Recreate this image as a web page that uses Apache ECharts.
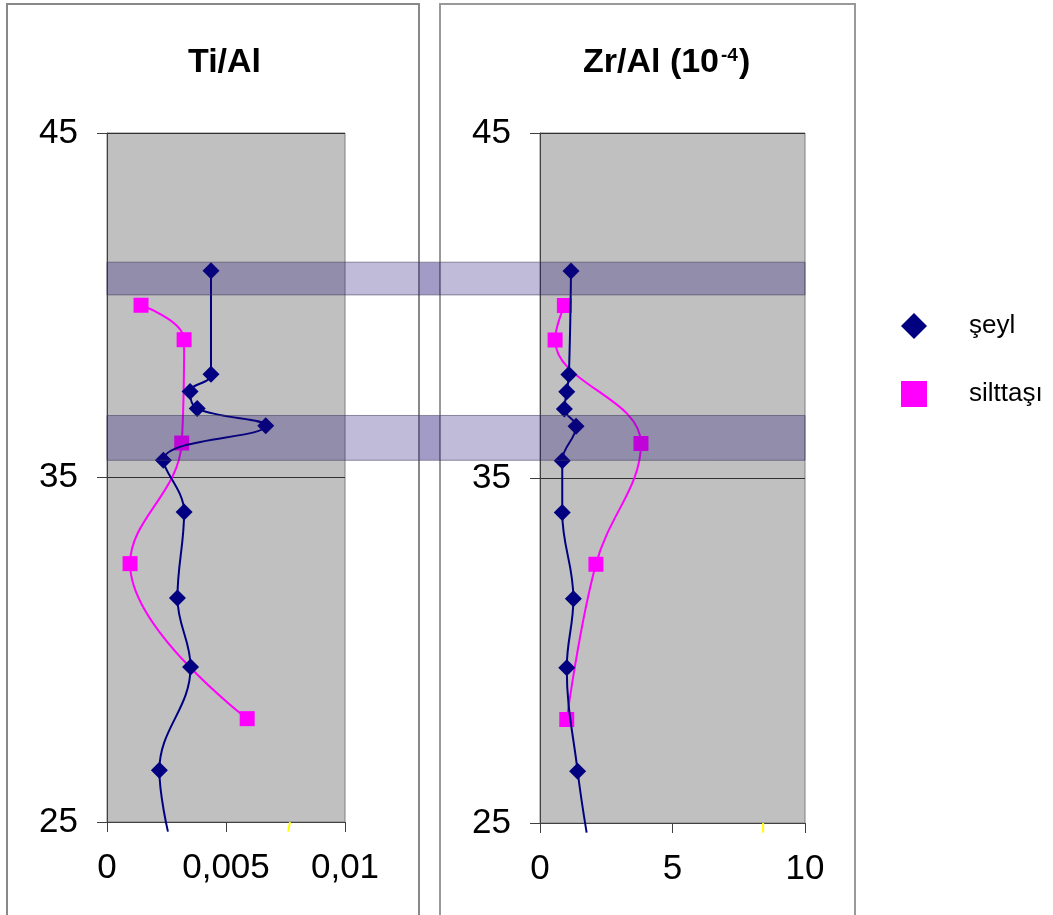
<!DOCTYPE html>
<html>
<head>
<meta charset="utf-8">
<title>Ti/Al – Zr/Al</title>
<script src="https://cdn.jsdelivr.net/npm/echarts@6/dist/echarts.min.js"></script>
<style>
  html, body { margin: 0; padding: 0; background: #ffffff; }
  #chart { width: 1053px; height: 915px; }
</style>
</head>
<body>
<div id="chart"></div>
<script>
// Depth (y) and element ratios for the two lithologies
const depthShale = [41, 38, 37.5, 37, 36.5, 35.5, 34, 31.5, 29.5, 26.5, 24.72];
const tiAlShale  = [0.00437, 0.00437, 0.00349, 0.00379, 0.00667, 0.00237, 0.00324, 0.00296, 0.00351, 0.00220, 0.00256];
const zrAlShale  = [1.17, 1.09, 1.01, 0.92, 1.36, 0.84, 0.84, 1.26, 1.01, 1.42, 1.76];

const depthSilt = [40, 39, 36, 32.5, 28];
const tiAlSilt  = [0.00143, 0.00324, 0.00314, 0.00097, 0.00589];
const zrAlSilt  = [0.92, 0.57, 3.81, 2.11, 1.01];

// short stray segment just below the depth axis
const depthStray = [25, 24.72];
const tiAlStray  = [0.00769, 0.00761];
const zrAlStray  = [8.42, 8.42];

// highlighted depth intervals [bottom, top]
const bands = [[40.3, 41.25], [35.5, 36.8]];

const depthTicks = [25, 35, 45];
const seriesNames = ['şeyl', 'silttaşı'];
const titles = ['Ti/Al', 'Zr/Al (10', '-4', ')'];

const G1 = { left: 107, top: 133, width: 238, height: 689 };
const G2 = { left: 540, top: 133, width: 265, height: 690 };

const FONT = '"Liberation Sans", Arial, sans-serif';
const NAVY = '#000080';
const MAGENTA = '#ff00ff';

function pairs(xs, ys, lastHidden) {
  return xs.map((v, i) => {
    const d = { value: [v, ys[i]] };
    if (lastHidden && i === xs.length - 1) d.symbol = 'none';
    return d;
  });
}

function yAxis(gridIndex) {
  return {
    type: 'value', gridIndex, min: depthTicks[0], max: depthTicks[depthTicks.length - 1], interval: 10,
    axisLine: { show: true, lineStyle: { color: '#404040', width: 1 } },
    axisTick: { show: true, inside: false, length: 10, lineStyle: { color: '#404040' } },
    axisLabel: { fontFamily: FONT, fontSize: 35, color: '#000', margin: 29 },
    splitLine: { show: true, lineStyle: { color: '#303030', width: 1 } }
  };
}

function xAxis(gridIndex, max, interval, fmt) {
  return {
    type: 'value', gridIndex, min: 0, max, interval,
    axisLine: { show: true, onZero: false, lineStyle: { color: '#404040', width: 1 } },
    axisTick: { show: true, length: 10, lineStyle: { color: '#404040' } },
    axisLabel: { fontFamily: FONT, fontSize: 35, color: '#000', margin: 29, formatter: fmt },
    splitLine: { show: false }
  };
}

function shaleSeries(xAxisIndex, xs) {
  return {
    name: seriesNames[0], type: 'line', xAxisIndex, yAxisIndex: xAxisIndex,
    data: pairs(xs, depthShale, true), smooth: 0.4, clip: false,
    symbol: 'diamond', symbolSize: 17,
    lineStyle: { color: NAVY, width: 2 }, itemStyle: { color: NAVY }, z: 3
  };
}

function siltSeries(xAxisIndex, xs) {
  return {
    name: seriesNames[1], type: 'line', xAxisIndex, yAxisIndex: xAxisIndex,
    data: pairs(xs, depthSilt, false), smooth: 0.4, clip: false,
    symbol: 'rect', symbolSize: 15,
    lineStyle: { color: MAGENTA, width: 2 }, itemStyle: { color: MAGENTA }, z: 2
  };
}

function straySeries(xAxisIndex, xs) {
  return {
    name: 'stray', type: 'line', xAxisIndex, yAxisIndex: xAxisIndex,
    data: pairs(xs, depthStray, false), clip: false, symbol: 'none',
    lineStyle: { color: '#ffff00', width: 2 }, silent: true, z: 1
  };
}

const chart = echarts.init(document.getElementById('chart'), null, { renderer: 'canvas' });

const option = {
  backgroundColor: '#ffffff',
  animation: false,
  title: [
    {
      text: titles[0], left: 188, top: 46, padding: 0,
      textStyle: { fontFamily: FONT, fontSize: 34, fontWeight: 'bold', color: '#000' }
    },
    {
      text: '{a|' + titles[1] + '}{s|' + titles[2] + '}{a|' + titles[3] + '}', left: 583, top: 46, padding: 0,
      textStyle: {
        rich: {
          a: { fontFamily: FONT, fontSize: 34, fontWeight: 'bold', color: '#000' },
          s: { fontFamily: FONT, fontSize: 19, fontWeight: 'bold', color: '#000', verticalAlign: 'top', padding: [0, 1, 14, 2] }
        }
      }
    }
  ],
  legend: {
    data: [
      { name: seriesNames[0], icon: 'diamond' },
      { name: seriesNames[1], icon: 'rect' }
    ],
    orient: 'vertical', left: 901, top: 313, padding: 0,
    itemWidth: 26, itemHeight: 26, itemGap: 42,
    textStyle: { fontFamily: FONT, fontSize: 26, color: '#000', padding: [0, 0, 0, 37] }
  },
  grid: [
    Object.assign({ show: true, backgroundColor: '#c0c0c0', borderColor: '#808080', borderWidth: 1 }, G1),
    Object.assign({ show: true, backgroundColor: '#c0c0c0', borderColor: '#808080', borderWidth: 1 }, G2)
  ],
  xAxis: [
    xAxis(0, 0.01, 0.005, v => v === 0 ? '0' : String(+v.toFixed(4)).replace('.', ',')),
    xAxis(1, 10, 5, v => String(v))
  ],
  yAxis: [yAxis(0), yAxis(1)],
  series: [
    straySeries(0, tiAlStray),
    straySeries(1, zrAlStray),
    siltSeries(0, tiAlSilt),
    shaleSeries(0, tiAlShale),
    siltSeries(1, zrAlSilt),
    shaleSeries(1, zrAlShale)
  ]
};

chart.setOption(option);

// panel frames plus translucent depth bands spanning both panels
const graphics = [
  { type: 'rect', shape: { x: 7, y: 4, width: 412, height: 1000 }, style: { fill: 'none', stroke: '#888888', lineWidth: 2 }, z: 0, silent: true },
  { type: 'rect', shape: { x: 440, y: 4, width: 415, height: 1000 }, style: { fill: 'none', stroke: '#999999', lineWidth: 2 }, z: 0, silent: true }
];
bands.forEach(b => {
  const yTop = chart.convertToPixel({ yAxisIndex: 0 }, b[1]);
  const yBot = chart.convertToPixel({ yAxisIndex: 0 }, b[0]);
  const x0 = G1.left, x1 = G2.left + G2.width;
  graphics.push({
    type: 'rect', shape: { x: x0, y: yTop, width: x1 - x0, height: yBot - yTop },
    style: { fill: 'rgba(30,12,116,0.28)', stroke: 'rgba(60,60,90,0.55)', lineWidth: 1 }, z: 100, silent: true
  });
  graphics.push({
    type: 'rect', shape: { x: 420, y: yTop + 0.5, width: 20, height: yBot - yTop - 1 },
    style: { fill: 'rgba(30,12,116,0.18)' }, z: 101, silent: true
  });
});
chart.setOption({ graphic: graphics });
</script>
</body>
</html>
